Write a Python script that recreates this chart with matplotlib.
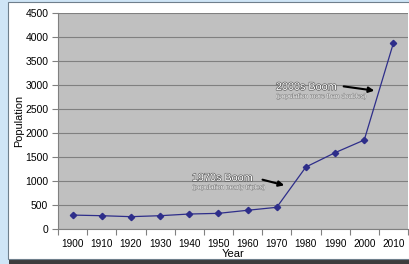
import numpy as np
import matplotlib
matplotlib.use("Agg")
from matplotlib import pyplot as plt
from matplotlib.patches import Rectangle
import matplotlib.patheffects as pe

# data
years = ["1900", "1910", "1920", "1930", "1940", "1950",
         "1960", "1970", "1980", "1990", "2000", "2010"]
population = [290, 277, 257, 277, 312, 326, 390, 452, 1292, 1590, 1854, 3875]
y_ticks = [0, 500, 1000, 1500, 2000, 2500, 3000, 3500, 4000, 4500]

W, H = 409, 264
plt.rcParams['font.family'] = ['Liberation Sans', 'DejaVu Sans']

fig = plt.figure(figsize=(W / 100, H / 100), dpi=100)
fig.patch.set_facecolor("#cfe5f6")

def fx(x):
    return x / W

def fy(y):
    return 1 - y / H

# shadow under the chart frame and the white chart area
fig.patches.append(Rectangle((fx(9), fy(H)), fx(W), 6 / H, transform=fig.transFigure,
                             facecolor="#3d3d3d", edgecolor="none", zorder=0))
fig.patches.append(Rectangle((fx(7.5), fy(258.5)), fx(W), 257 / H, transform=fig.transFigure,
                             facecolor="white", edgecolor="#6f7f8c", lw=0.8, zorder=1))

ax = fig.add_axes([fx(58), fy(229), fx(350), 216 / H])
ax.set_facecolor("#c0c0c0")
ax.set_zorder(2)

x = np.arange(len(years))
ax.plot(x, population, color="#2e2e8a", lw=0.9, marker="D", markersize=3.2,
        markerfacecolor="#2e2e8a", markeredgecolor="#2e2e8a", zorder=3)

ax.set_xlim(-0.5, len(years) - 0.5)
ax.set_ylim(0, 4500)
ax.set_yticks(y_ticks)
ax.set_yticklabels([str(v) for v in y_ticks], fontsize=7.5)
ax.set_xticks(x)
ax.set_xticklabels(years, fontsize=7.2)
ax.set_xticks(np.arange(-0.5, len(years)), minor=True)
ax.tick_params(axis="x", which="major", length=0, pad=7)
ax.tick_params(axis="x", which="minor", length=4, color="#808080", width=0.8)
ax.tick_params(axis="y", length=4, color="#808080", width=0.8, pad=3)
ax.yaxis.grid(True, color="#808080", lw=0.8)
ax.set_axisbelow(True)
for s in ["top", "right"]:
    ax.spines[s].set_visible(False)
ax.spines["left"].set_color("#808080")
ax.spines["bottom"].set_color("#808080")

ax.set_ylabel("Population", fontsize=7.8, labelpad=1)
ax.set_xlabel("Year", fontsize=8, labelpad=0)

outline = [pe.withStroke(linewidth=0.9, foreground="#5a5a5a")]
small_outline = [pe.withStroke(linewidth=0.6, foreground="#808080")]

# 2000s boom
ax.annotate("", xy=(10.44, 2875), xytext=(9.2, 2979),
            arrowprops=dict(arrowstyle="-|>", color="black", lw=1.5, mutation_scale=8))
ax.text(6.97, 2960, "2000s Boom", fontsize=7.8, color="white", va="center",
        path_effects=outline)
ax.text(6.97, 2760, "(population more than doubles)", fontsize=4.7, color="white",
        va="center", path_effects=small_outline)

# 1970s boom
ax.annotate("", xy=(7.35, 896), xytext=(6.42, 1042),
            arrowprops=dict(arrowstyle="-|>", color="black", lw=1.5, mutation_scale=8))
ax.text(4.09, 1062, "1970s Boom", fontsize=7.8, color="white", va="center",
        path_effects=outline)
ax.text(4.09, 860, "(population nearly triples)", fontsize=4.7, color="white",
        va="center", path_effects=small_outline)

fig.savefig("out.png", dpi=100)
